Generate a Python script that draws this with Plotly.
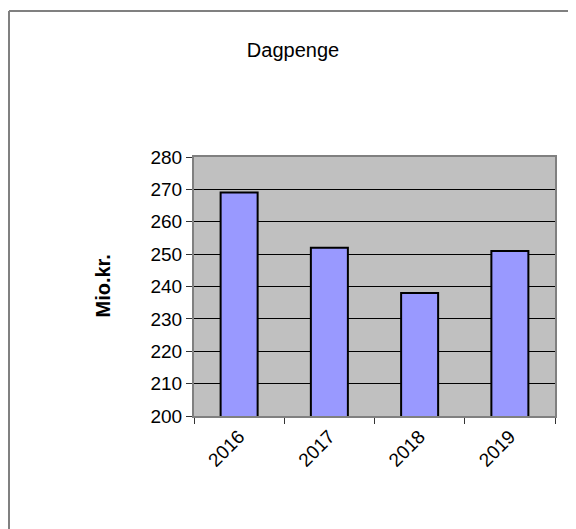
import plotly.graph_objects as go

years = ["2016", "2017", "2018", "2019"]
values = [269, 252, 238, 251]
title_text = "Dagpenge"
y_title = "Mio.kr."
y_ticks = [200, 210, 220, 230, 240, 250, 260, 270, 280]

OFF = 8  # page body offset
W, H = 576 - OFF, 529 - OFF
L, T = 194 - OFF, 157 - OFF
R = W - (555 - OFF)
B = H - (416 - OFF)
pw, ph = W - L - R, H - T - B
FONT = "Arial, Liberation Sans, sans-serif"

fig = go.Figure(go.Bar(
    x=years, y=values, width=0.41,
    marker=dict(color="#9999FF", line=dict(color="black", width=2)),
))

fig.update_layout(
    width=W, height=H,
    margin=dict(l=L, r=R, t=T, b=B, pad=0),
    paper_bgcolor="white", plot_bgcolor="#C0C0C0",
    font=dict(family=FONT, size=19, color="black"),
    showlegend=False,
    title=dict(text=title_text, x=(293 - OFF) / W, xanchor="center",
               y=1 - (50 - OFF) / H, yanchor="middle", font=dict(size=20)),
)
fig.update_yaxes(
    range=[200, 280], tickvals=y_ticks, showgrid=True, gridcolor="#000000", gridwidth=1,
    showline=True, linecolor="#808080", linewidth=2, mirror=True,
    ticks="outside", ticklen=6, tickcolor="#333333", tickwidth=1,
    zeroline=False,
)
fig.update_xaxes(
    tickangle=-45, showline=True, linecolor="#808080", linewidth=2, mirror=True,
    ticks="outside", ticklen=6, tickcolor="#333333", tickwidth=1, tickson="boundaries",
    showgrid=False,
)
fig.add_annotation(text=y_title, xref="paper", yref="paper",
                   x=(102 - OFF - L) / pw, y=0.5, textangle=-90, showarrow=False,
                   font=dict(size=20, family=FONT, weight="bold"),
                   xanchor="center", yanchor="middle")
# outer frame (left and top edges visible)
fx = (9 - OFF - L) / pw
fy = ((H - B) - (11 - OFF)) / ph
fig.add_shape(type="line", xref="paper", yref="paper",
              x0=fx, x1=fx, y0=fy, y1=-(H - (H - B)) / ph - 0.2,
              line=dict(color="#808080", width=2), layer="below")
fig.add_shape(type="line", xref="paper", yref="paper",
              x0=fx, x1=(W - L) / pw + 0.2, y0=fy, y1=fy,
              line=dict(color="#808080", width=2), layer="below")

fig.write_html("out.html")
